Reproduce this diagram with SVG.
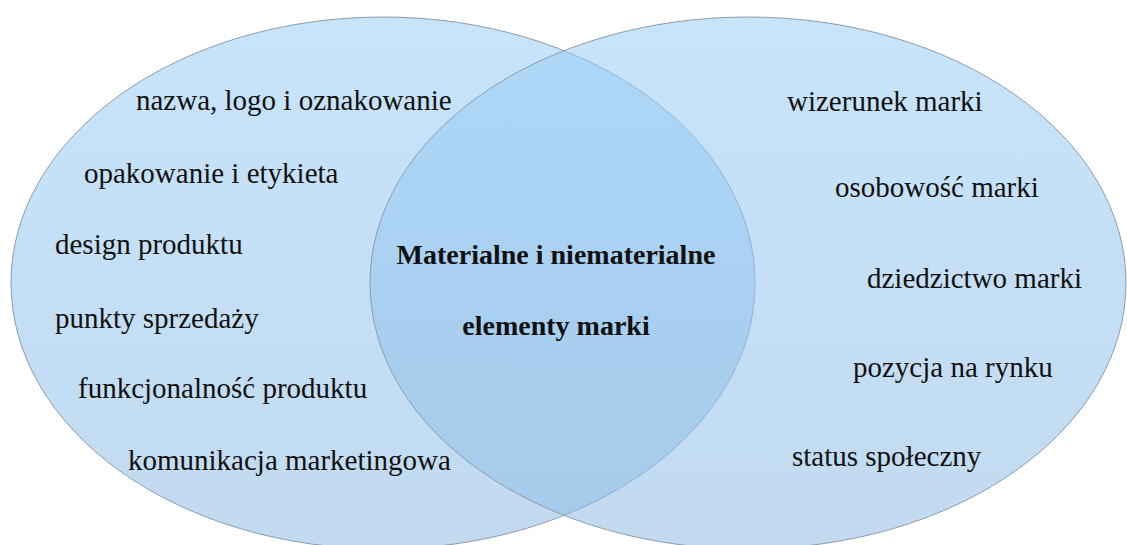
<svg xmlns="http://www.w3.org/2000/svg" width="1127" height="545" viewBox="0 0 1127 545">
  <style>
    .set { stroke: #8c9cab; stroke-width: 1; fill: url(#setFill); }
    .lbl { font-family: "Liberation Serif", "Times New Roman", serif; font-size: 29px; fill: #111; }
    .core { font-family: "Liberation Serif", "Times New Roman", serif; font-size: 28px; font-weight: bold; fill: #111; text-anchor: middle; }
  </style>
  <defs>
    <linearGradient id="setFill" x1="0" y1="0" x2="0" y2="1">
      <stop offset="0" stop-color="rgb(153,206,247)" stop-opacity="0.55"/>
      <stop offset="1" stop-color="rgb(143,188,228)" stop-opacity="0.55"/>
    </linearGradient>
  </defs>
  <rect width="1127" height="545" fill="#fff"/>

  <!-- two overlapping sets -->
  <g id="set-material">
    <ellipse class="set" cx="383" cy="283" rx="372" ry="266"/>
  </g>
  <g id="set-immaterial">
    <ellipse class="set" cx="748" cy="283" rx="378" ry="266"/>
  </g>

  <g id="material-items">
    <text class="lbl" x="136" y="110">nazwa, logo i oznakowanie</text>
    <text class="lbl" x="84" y="183">opakowanie i etykieta</text>
    <text class="lbl" x="55" y="254">design produktu</text>
    <text class="lbl" x="55" y="328">punkty sprzedaży</text>
    <text class="lbl" x="78" y="398">funkcjonalność produktu</text>
    <text class="lbl" x="128" y="470">komunikacja marketingowa</text>
  </g>

  <g id="immaterial-items">
    <text class="lbl" x="787" y="111">wizerunek marki</text>
    <text class="lbl" x="835" y="197">osobowość marki</text>
    <text class="lbl" x="867" y="288">dziedzictwo marki</text>
    <text class="lbl" x="853" y="377">pozycja na rynku</text>
    <text class="lbl" x="792" y="466">status społeczny</text>
  </g>

  <g id="intersection-label">
    <text class="core" x="556" y="264">Materialne i niematerialne</text>
    <text class="core" x="556" y="335">elementy marki</text>
  </g>
</svg>
